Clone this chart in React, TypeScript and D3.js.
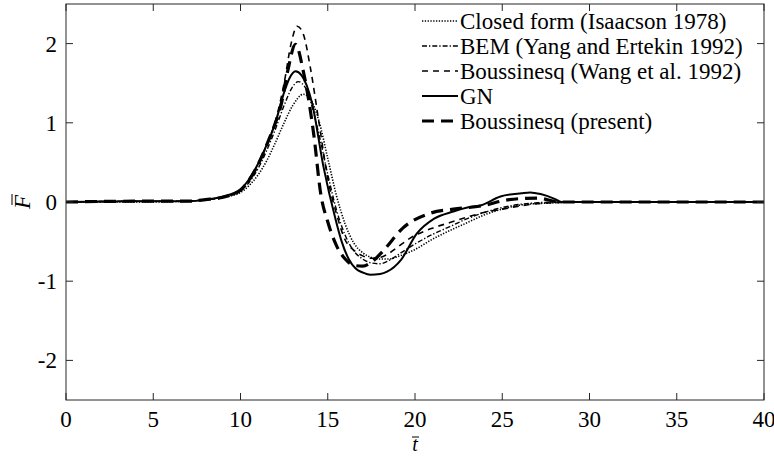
import React from "react";
import * as d3 from "d3";

// ---------- data ----------
const xTicks = [0, 5, 10, 15, 20, 25, 30, 35, 40];
const yTicks = [-2, -1, 0, 1, 2];

const closedT = [0, 4, 7, 8, 9, 10, 10.5, 11, 11.5, 12, 12.5, 13, 13.6, 14, 14.5, 15, 15.5, 16, 16.5, 17, 17.5, 18, 18.5, 19, 20, 21, 22, 23, 24, 25, 26, 27, 28, 29, 30, 40];
const closedF = [0, 0, 0.01, 0.03, 0.06, 0.12, 0.21, 0.34, 0.52, 0.75, 1.0, 1.22, 1.36, 1.3, 1.02, 0.55, 0.08, -0.28, -0.52, -0.64, -0.7, -0.72, -0.72, -0.69, -0.6, -0.47, -0.36, -0.26, -0.16, -0.09, -0.04, -0.02, -0.01, 0, 0, 0];

const bemT = [0, 4, 7, 8, 9, 10, 10.5, 11, 11.5, 12, 12.5, 13, 13.3, 13.7, 14, 14.5, 15, 15.5, 16, 16.5, 17, 17.5, 18, 18.5, 19, 20, 21, 22, 23, 24, 25, 26, 27, 28, 29, 40];
const bemF = [0, 0.01, 0.01, 0.03, 0.06, 0.14, 0.25, 0.42, 0.65, 0.92, 1.22, 1.46, 1.52, 1.45, 1.28, 0.85, 0.35, -0.1, -0.42, -0.62, -0.72, -0.77, -0.78, -0.74, -0.67, -0.53, -0.41, -0.31, -0.21, -0.13, -0.07, -0.03, -0.01, 0, 0, 0];

const wangT = [0, 4, 7, 8, 9, 10, 10.5, 11, 11.5, 12, 12.5, 12.9, 13.25, 13.6, 14, 14.5, 15, 15.5, 16, 16.5, 17, 17.5, 18, 18.5, 19, 19.7, 21, 22, 23, 24, 25, 26, 27, 28, 29, 40];
const wangF = [0, 0.01, 0.01, 0.03, 0.06, 0.14, 0.27, 0.46, 0.72, 1.02, 1.5, 2.0, 2.22, 2.12, 1.7, 1.0, 0.3, -0.15, -0.48, -0.61, -0.68, -0.71, -0.7, -0.65, -0.57, -0.46, -0.33, -0.26, -0.19, -0.13, -0.09, -0.05, -0.02, -0.01, 0, 0];

const gnT = [0, 4, 7, 8, 9, 10, 10.5, 11, 11.5, 12, 12.45, 12.8, 13.15, 13.5, 14.1, 14.75, 15.45, 15.8, 16.2, 16.6, 17, 17.45, 18, 18.4, 19.2, 20.1, 21.1, 22.2, 23, 23.8, 24.9, 26.1, 26.6, 27.2, 28, 28.4, 29, 40];
const gnF = [0, 0.01, 0.01, 0.03, 0.07, 0.16, 0.29, 0.48, 0.72, 1.0, 1.35, 1.56, 1.65, 1.6, 1.25, 0.45, -0.22, -0.5, -0.72, -0.84, -0.89, -0.92, -0.91, -0.88, -0.73, -0.4, -0.21, -0.12, -0.07, -0.04, 0.07, 0.11, 0.12, 0.1, 0.04, 0, 0, 0];

const presT = [0, 4, 7, 8, 9, 10, 10.5, 11, 11.5, 12, 12.3, 12.7, 13.15, 13.6, 14.2, 14.6, 15, 15.5, 16, 16.5, 17, 17.5, 18.2, 19.3, 20.9, 22.2, 23.8, 25.4, 27, 28.3, 29, 40];
const presF = [0, 0.01, 0.01, 0.03, 0.06, 0.15, 0.28, 0.47, 0.72, 1.0, 1.2, 1.65, 1.99, 1.65, 0.85, 0.1, -0.25, -0.55, -0.72, -0.8, -0.81, -0.76, -0.61, -0.33, -0.14, -0.09, -0.05, 0.03, 0.05, 0, 0, 0];

const seriesNames = [
  "Closed form (Isaacson 1978)",
  "BEM (Yang and Ertekin 1992)",
  "Boussinesq (Wang et al. 1992)",
  "GN",
  "Boussinesq (present)",
];

// ---------- layout / styles ----------
const W = 774;
const H = 456;
const left = 66;
const right = 764;
const top = 4;
const bottom = 400;
const font = "Liberation Serif, Tinos, DejaVu Serif, Times New Roman, serif";
const axisColor = "#262626";

const styles = [
  { dash: "1.3,1.5", width: 1.6 },
  { dash: "5,2,1.3,2", width: 1.4 },
  { dash: "6,5", width: 1.6 },
  { dash: "none", width: 2 },
  { dash: "12,7", width: 3.2 },
];

export default function App() {
  const x = d3.scaleLinear().domain([0, 40]).range([left, right]);
  const y = d3.scaleLinear().domain([-2.5, 2.5]).range([bottom, top]);
  const line = d3
    .line<[number, number]>()
    .x((d) => x(d[0]))
    .y((d) => y(d[1]))
    .curve(d3.curveMonotoneX);

  const series: [number[], number[]][] = [
    [closedT, closedF],
    [bemT, bemF],
    [wangT, wangF],
    [gnT, gnF],
    [presT, presF],
  ];

  const tickLen = 7;
  const legX0 = 422;
  const legX1 = 458;
  const legY0 = 21;
  const legDy = 25;
  const txt = { fontFamily: font, fontSize: "23px", fill: "#000" } as React.CSSProperties;

  return (
    <svg width={W} height={H} style={{ position: "absolute", left: 0, top: 0, background: "#fff", fontFamily: font }}>
      <defs>
        <clipPath id="plotclip">
          <rect x={left} y={top} width={right - left} height={bottom - top} />
        </clipPath>
      </defs>
      <rect x={0} y={0} width={W} height={H} fill="#fff" />

      {/* curves */}
      <g clipPath="url(#plotclip)">
        {series.map(([ts, fs], i) => (
          <path
            key={i}
            d={line(ts.map((t, k) => [t, fs[k]] as [number, number])) || ""}
            fill="none"
            stroke="#000"
            strokeWidth={styles[i].width}
            strokeDasharray={styles[i].dash}
          />
        ))}
      </g>

      {/* box */}
      <rect x={left} y={top} width={right - left} height={bottom - top} fill="none" stroke={axisColor} strokeWidth={1} />

      {/* x ticks */}
      {xTicks.map((t) => (
        <g key={"x" + t}>
          <line x1={x(t)} x2={x(t)} y1={bottom} y2={bottom - tickLen} stroke={axisColor} />
          <line x1={x(t)} x2={x(t)} y1={top} y2={top + tickLen} stroke={axisColor} />
          <text x={x(t)} y={427} textAnchor="middle" style={txt}>
            {t}
          </text>
        </g>
      ))}
      {/* y ticks */}
      {yTicks.map((v) => (
        <g key={"y" + v}>
          <line x1={left} x2={left + tickLen} y1={y(v)} y2={y(v)} stroke={axisColor} />
          <line x1={right} x2={right - tickLen} y1={y(v)} y2={y(v)} stroke={axisColor} />
          <text x={57} y={y(v) + 8} textAnchor="end" style={txt}>
            {v}
          </text>
        </g>
      ))}

      {/* x label t-bar */}
      <text x={x(20)} y={451} textAnchor="middle" style={{ ...txt, fontSize: "20px", fontStyle: "italic" }}>
        t
      </text>
      <line x1={x(20) - 3} x2={x(20) + 4} y1={437} y2={437} stroke="#000" strokeWidth={1} />

      {/* y label F-bar */}
      <g transform={`translate(30, ${y(0)}) rotate(-90)`}>
        <text x={0} y={0} textAnchor="middle" style={{ ...txt, fontStyle: "italic" }}>
          F
        </text>
        <line x1={-3} x2={8} y1={-18} y2={-18} stroke="#000" strokeWidth={1} />
      </g>

      {/* legend */}
      {seriesNames.map((name, i) => {
        const ly = legY0 + i * legDy;
        return (
          <g key={"leg" + i}>
            <line
              x1={legX0}
              x2={legX1}
              y1={ly}
              y2={ly}
              stroke="#000"
              strokeWidth={styles[i].width}
              strokeDasharray={styles[i].dash}
            />
            <text x={legX1 + 2} y={ly + 7.5} style={txt}>
              {name}
            </text>
          </g>
        );
      })}
    </svg>
  );
}
